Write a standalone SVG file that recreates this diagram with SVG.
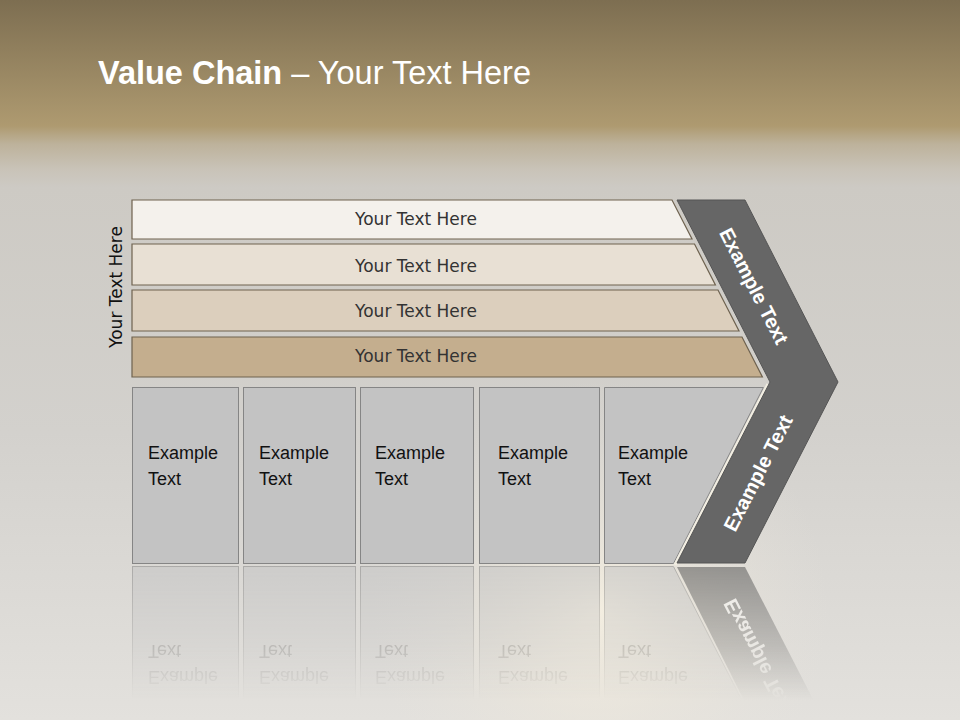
<svg xmlns="http://www.w3.org/2000/svg" width="960" height="720" viewBox="0 0 960 720">
<defs>
<linearGradient id="bg" x1="0" y1="0" x2="0" y2="720" gradientUnits="userSpaceOnUse">
<stop offset="0" stop-color="#7d6e51"/>
<stop offset="0.175" stop-color="#ae9a70"/>
<stop offset="0.2" stop-color="#bdb29b"/>
<stop offset="0.235" stop-color="#c9c3b8"/>
<stop offset="0.26" stop-color="#cdcac4"/>
<stop offset="0.6" stop-color="#d3d1cd"/>
<stop offset="1" stop-color="#e3e1dd"/>
</linearGradient>
<radialGradient id="glow" cx="600" cy="610" r="230" gradientUnits="userSpaceOnUse">
<stop offset="0" stop-color="#f6f0e2" stop-opacity="0.9"/>
<stop offset="0.5" stop-color="#efe9dc" stop-opacity="0.4"/>
<stop offset="1" stop-color="#e8e4dc" stop-opacity="0"/>
</radialGradient>
<linearGradient id="fade" x1="0" y1="566" x2="0" y2="700" gradientUnits="userSpaceOnUse">
<stop offset="0" stop-color="#fff" stop-opacity="0.55"/>
<stop offset="0.6" stop-color="#fff" stop-opacity="0.25"/>
<stop offset="1" stop-color="#fff" stop-opacity="0"/>
</linearGradient>
<mask id="refl" maskUnits="userSpaceOnUse" x="0" y="560" width="960" height="160">
<rect x="0" y="560" width="960" height="160" fill="url(#fade)"/>
</mask>
<style>
.bar{stroke:#6e624f;stroke-width:1.2}
.bt{font-family:"DejaVu Sans",Verdana,sans-serif;font-size:17px;fill:#333;text-anchor:middle}
.box{fill:#c3c3c3;stroke:#858585;stroke-width:1}
.et{font-family:"Liberation Sans",Arial,sans-serif;font-size:18px;fill:#111}
.chev{fill:#666;stroke:#555;stroke-width:1}
.ct{font-family:"Liberation Sans",Arial,sans-serif;font-size:20px;font-weight:bold;fill:#fff;text-anchor:middle}
</style>
</defs>
<rect width="960" height="720" fill="url(#bg)"/>
<rect width="960" height="720" fill="url(#glow)"/>
<text x="98" y="84" font-family="Liberation Sans, Arial, sans-serif" font-size="32.5" fill="#fff"><tspan font-weight="bold">Value Chain</tspan> – Your Text Here</text>
<g id="side-label">
<text class="bt" transform="translate(122,287) rotate(-90)" style="fill:#111">Your Text Here</text>
</g>
<g id="bar1"><polygon class="bar" points="132,200 672,200 692,239 132,239" fill="#f4f1ec"/><text class="bt" x="416" y="225">Your Text Here</text></g>
<g id="bar2"><polygon class="bar" points="132,244 694.5,244 715.4,285 132,285" fill="#e8e0d4"/><text class="bt" x="416" y="272">Your Text Here</text></g>
<g id="bar3"><polygon class="bar" points="132,290 718,290 739,331 132,331" fill="#dccfbd"/><text class="bt" x="416" y="317">Your Text Here</text></g>
<g id="bar4"><polygon class="bar" points="132,337 742,337 762.4,377 132,377" fill="#c4ae8e"/><text class="bt" x="416" y="362">Your Text Here</text></g>
<g id="reflection" mask="url(#refl)">
<g transform="matrix(1,0,0,-1,0,1130)">
<rect class="box" x="132.5" y="387.5" width="106" height="176"/>
<rect class="box" x="243.5" y="387.5" width="112" height="176"/>
<rect class="box" x="360.5" y="387.5" width="113" height="176"/>
<rect class="box" x="479.5" y="387.5" width="120" height="176"/>
<polygon class="box" points="604.5,387.5 763.4,387.5 673.5,563.5 604.5,563.5"/>
<text class="et" x="148" y="459" style="fill:#555">Example</text><text class="et" x="148" y="485" style="fill:#555">Text</text>
<text class="et" x="259" y="459" style="fill:#555">Example</text><text class="et" x="259" y="485" style="fill:#555">Text</text>
<text class="et" x="375" y="459" style="fill:#555">Example</text><text class="et" x="375" y="485" style="fill:#555">Text</text>
<text class="et" x="498" y="459" style="fill:#555">Example</text><text class="et" x="498" y="485" style="fill:#555">Text</text>
<text class="et" x="618" y="459" style="fill:#555">Example</text><text class="et" x="618" y="485" style="fill:#555">Text</text>
<polygon points="768,382 838,382 745,563 677,563" fill="#555"/>
<text class="ct" transform="translate(758,473) rotate(-62.9)" y="7">Example Text</text>
</g>
</g>
<g id="box1"><rect class="box" x="132.5" y="387.5" width="106" height="176"/><text class="et" x="148" y="459">Example</text><text class="et" x="148" y="485">Text</text></g>
<g id="box2"><rect class="box" x="243.5" y="387.5" width="112" height="176"/><text class="et" x="259" y="459">Example</text><text class="et" x="259" y="485">Text</text></g>
<g id="box3"><rect class="box" x="360.5" y="387.5" width="113" height="176"/><text class="et" x="375" y="459">Example</text><text class="et" x="375" y="485">Text</text></g>
<g id="box4"><rect class="box" x="479.5" y="387.5" width="120" height="176"/><text class="et" x="498" y="459">Example</text><text class="et" x="498" y="485">Text</text></g>
<g id="box5"><polygon class="box" points="604.5,387.5 763.4,387.5 673.5,563.5 604.5,563.5"/><text class="et" x="618" y="459">Example</text><text class="et" x="618" y="485">Text</text></g>
<g id="chevron">
<polyline points="768,384 675,565" fill="none" stroke="#f2eee2" stroke-width="3"/>
<polygon class="chev" points="677,200 745,200 838,382 745,563 677,563 770,382"/>
<text class="ct" transform="translate(754,286) rotate(62.9)" y="7">Example Text</text>
<text class="ct" transform="translate(758,473) rotate(-62.9)" y="7">Example Text</text>
</g>
<g id="connectors"/>
</svg>
